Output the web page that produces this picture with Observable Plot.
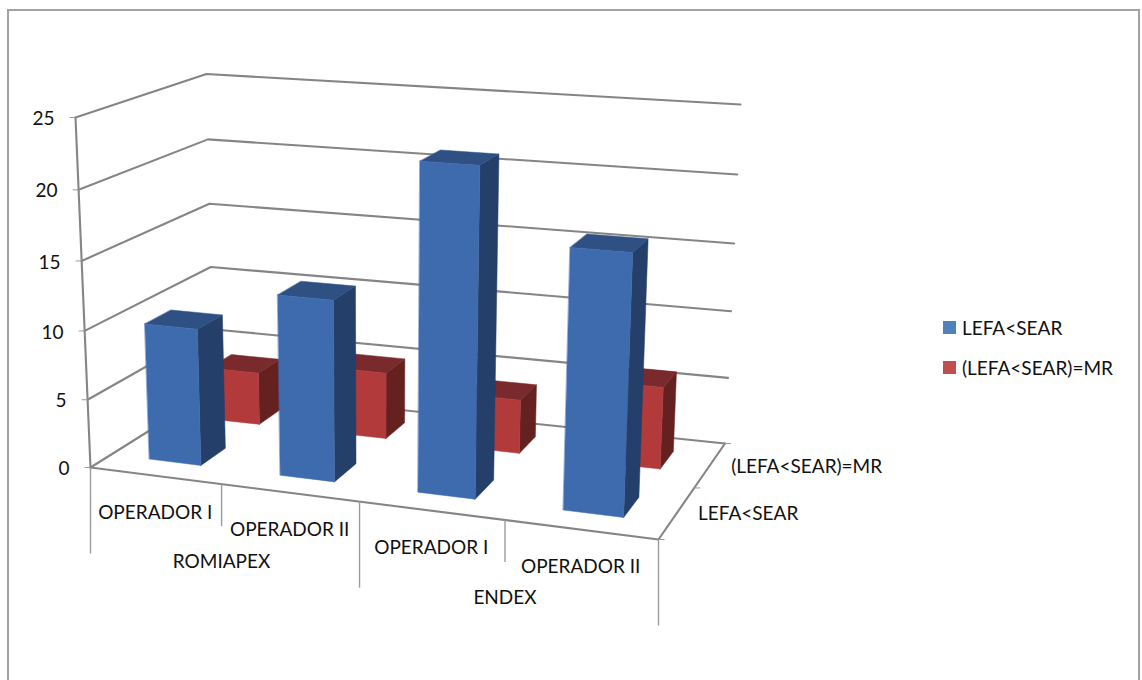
<!DOCTYPE html>
<html>
<head>
<meta charset="utf-8">
<script src="https://cdn.jsdelivr.net/npm/d3@7"></script>
<script src="https://cdn.jsdelivr.net/npm/@observablehq/plot@0.6"></script>
<style>
html,body{margin:0;padding:0;background:#fff;overflow:hidden;width:1142px;height:680px}
#frame{position:absolute;left:7px;top:9px;width:1133px;height:720px;border:2px solid #a2a2a2;box-sizing:border-box;pointer-events:none}
#chart{position:absolute;left:0;top:0}
#legend{position:absolute;left:943px;top:316px;font:19px Lato,sans-serif;color:#111}
#legend div{display:flex;align-items:center;height:40px;margin-top:-9px;margin-bottom:9px;}
#legend i{display:inline-block;width:13px;height:13px;margin-right:6px}
</style>
</head>
<body>
<div id="chart"></div>
<div id="frame"></div>
<div id="legend"></div>
<script>
// ---- data ----
const operators = ["OPERADOR I", "OPERADOR II", "OPERADOR I", "OPERADOR II"];
const groups = ["ROMIAPEX", "ENDEX"];
const seriesNames = ["LEFA<SEAR", "(LEFA<SEAR)=MR"];
const lefaSear = [10, 13, 23, 18];
const lefaSearMr = [4, 5, 4, 6];
const valueTicks = [0, 5, 10, 15, 20, 25];
const valueMax = 25;

// ---- colours ----
const shades = [
  {front: "#3e6bae", side: "#243f69", top: "#2f5083", legend: "#4f81bd"},
  {front: "#b23a3a", side: "#652020", top: "#7a2a2c", legend: "#c0504d"}
];

// ---- 3-D view: box corners of the plot volume on the page ----
const view = {
  fbl: [90, 467], fbr: [658, 539], bbl: [213, 390], bbr: [724.5, 443],
  ftl: [75, 117], ftr: [673, 157], btl: [206, 73.5], btr: [740, 104],
  ku: -0.10, kd: 0.16, kv: -0.04
};
const warp = (t, k) => t * (1 + k) / (1 + k * t);
const mix = (a, b, t) => [a[0] + (b[0] - a[0]) * t, a[1] + (b[1] - a[1]) * t];
function project(u, d, v) {
  const su = warp(u, view.ku), sd = warp(d, view.kd), sv = warp(v / valueMax, view.kv);
  const bottom = mix(mix(view.fbl, view.fbr, su), mix(view.bbl, view.bbr, su), sd);
  const top = mix(mix(view.ftl, view.ftr, su), mix(view.btl, view.btr, su), sd);
  return mix(bottom, top, sv);
}

// ---- bars as polygons in the view ----
const nCat = operators.length, nSer = seriesNames.length;
const barU = 0.4 / nCat / 2;   // half width of a bar along the category axis
const barD = 0.4 / nSer / 2;   // half depth of a bar
const polys = [];
function addPoly(id, color, corners) {
  corners.forEach(([u, d, v]) => {
    const [x, y] = project(u, d, v);
    polys.push({id, color, x, y});
  });
}
[lefaSearMr, lefaSear].forEach((vals, k) => {
  const s = 1 - k;                       // series index, drawn back to front
  const dc = (s + 0.5) / nSer, sh = shades[s];
  vals.forEach((val, i) => {
    const uc = (i + 0.5) / nCat;
    const u0 = uc - barU, u1 = uc + barU, d0 = dc - barD, d1 = dc + barD;
    const id = `${s}-${i}`;
    addPoly(id + "side", sh.side, [[u1,d0,0],[u1,d1,0],[u1,d1,val],[u1,d0,val]]);
    addPoly(id + "top", sh.top, [[u0,d0,val],[u1,d0,val],[u1,d1,val],[u0,d1,val]]);
    addPoly(id + "front", sh.front, [[u0,d0,0],[u1,d0,0],[u1,d0,val],[u0,d0,val]]);
  });
});

// ---- walls, floor and axis lines ----
const walls = [];
function addLine(id, pts) { pts.forEach(p => { const [x, y] = project(...p); walls.push({id, x, y}); }); }
valueTicks.forEach(v => addLine("g" + v, [[0,0,v],[0,1,v],[1,1,v]]));
addLine("floor", [[0,0,0],[1,0,0],[1,1,0]]);
addLine("axis", [[0,0,0],[0,0,valueMax]]);

const px = p => project(...p)[0], py = p => project(...p)[1];
const catEdges = d3.range(nCat + 1).map(i => ({u: i / nCat, long: i % 2 === 0}));
const depthEdges = d3.range(nSer + 1).map(i => i / nSer);

const gridColor = "#858585", tickColor = "#9a9a9a", ink = "#111";
const font = {fontFamily: "Lato, sans-serif", fontSize: 19, fill: ink};

const plot = Plot.plot({
  width: 1142, height: 680,
  marginLeft: 0, marginRight: 0, marginTop: 0, marginBottom: 0,
  x: {domain: [0, 1142], range: [0, 1142], axis: null},
  y: {domain: [0, 680], range: [0, 680], axis: null},
  style: {background: "transparent", overflow: "visible"},
  marks: [
    Plot.line(walls, {x: "x", y: "y", z: "id", stroke: gridColor, strokeWidth: 2.1}),
    // value-axis stubs and labels
    Plot.link(valueTicks, {x1: v => px([0,0,v]) - 6, y1: v => py([0,0,v]), x2: v => px([0,0,v]), y2: v => py([0,0,v]), stroke: tickColor, strokeWidth: 1}),
    Plot.text(valueTicks, {x: v => px([0,0,v]) - 21, y: v => py([0,0,v]) + 1.5, text: v => String(v), textAnchor: "end", ...font}),
    // category-axis ticks
    Plot.link(catEdges, {x1: e => px([e.u,0,0]), y1: e => py([e.u,0,0]), x2: e => px([e.u,0,0]), y2: e => py([e.u,0,0]) + (e.long ? 86 : 42), stroke: tickColor, strokeWidth: 1.4}),
    // depth-axis stubs
    Plot.link(depthEdges, {x1: d => px([1,d,0]), y1: d => py([1,d,0]), x2: d => px([1,d,0]) + 6, y2: d => py([1,d,0]), stroke: tickColor, strokeWidth: 1}),
    // bars
    Plot.line(polys, {x: "x", y: "y", z: "id", curve: "linear-closed",
      fill: {value: "color", scale: null}, stroke: {value: "color", scale: null}, strokeWidth: 0.5}),
    // category labels
    Plot.text(operators, {x: (d, i) => px([(i + 0.5) / nCat,0,0]), y: (d, i) => py([(i + 0.5) / nCat,0,0]) + 37, text: d => d, ...font}),
    Plot.text(groups, {x: (d, i) => px([(i + 0.5) / groups.length,0,0]), y: (d, i) => py([(i + 0.5) / groups.length,0,0]) + 78, text: d => d, ...font}),
    // depth labels
    Plot.text(seriesNames, {x: (d, i) => px([1,(i + 0.5) / nSer,0]) + 21, y: (d, i) => py([1,(i + 0.5) / nSer,0]) + 1.5, text: d => d, textAnchor: "start", ...font})
  ]
});
document.getElementById("chart").appendChild(plot);

const legend = document.getElementById("legend");
seriesNames.forEach((name, i) => {
  const row = document.createElement("div");
  const sw = document.createElement("i");
  sw.style.background = shades[i].legend;
  row.appendChild(sw);
  row.appendChild(document.createTextNode(name));
  legend.appendChild(row);
});
</script>
</body>
</html>
